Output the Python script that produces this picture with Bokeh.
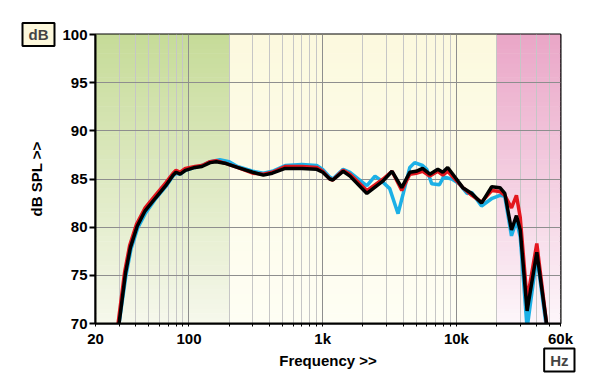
import numpy as np
from bokeh.plotting import figure
from bokeh.models import FixedTicker, Range1d, Title, ColumnDataSource
from bokeh.embed import file_html
from bokeh.resources import INLINE

# ---------------- data ----------------
black_f = [30, 33.5, 36.5, 41, 47, 56, 67, 76, 80, 86, 94, 111, 125, 144, 160, 190, 230, 300, 360, 420,
           524, 700, 903, 1000, 1130, 1190, 1420, 1600, 2140, 2830, 3300, 3900, 4480, 5000, 5580, 6320,
           7260, 7900, 8600, 9740, 11160, 13020, 15400, 18360, 21160, 23000, 25800, 28100, 30000, 33760,
           39900, 47200]
black_db = [70.0, 75.2, 77.9, 80.1, 81.7, 83.0, 84.3, 85.4, 85.7, 85.5, 85.9, 86.2, 86.3, 86.7, 86.8, 86.6,
            86.2, 85.7, 85.4, 85.6, 86.1, 86.1, 86.0, 85.7, 85.0, 84.9, 85.8, 85.3, 83.5, 84.8, 85.8, 84.1,
            85.7, 85.8, 86.1, 85.5, 86.0, 85.7, 86.2, 85.2, 84.1, 83.5, 82.5, 84.2, 84.1, 83.5, 79.7, 81.2,
            79.7, 71.3, 77.4, 70.0]

red_f = [29.5, 33, 36, 40.5, 47, 56, 67, 76, 80, 86, 94, 111, 125, 144, 160, 190, 230, 300, 360, 420,
         524, 700, 903, 1000, 1130, 1190, 1420, 1600, 2140, 2830, 3300, 3900, 4480, 5000, 5580, 6320,
         7260, 7900, 8600, 9740, 11160, 13020, 15400, 18360, 21160, 23000, 25800, 28100, 30000, 33760,
         39900, 47200]
red_db = [70.0, 75.3, 78.1, 80.3, 82.0, 83.3, 84.6, 85.6, 85.9, 85.7, 86.1, 86.3, 86.4, 86.8, 86.9, 86.6,
          86.2, 85.6, 85.5, 85.7, 86.3, 86.3, 86.2, 85.8, 85.0, 84.9, 85.9, 85.5, 83.8, 85.0, 85.8, 83.8,
          85.5, 85.6, 85.8, 85.3, 85.8, 85.4, 85.8, 85.0, 84.1, 83.3, 82.6, 83.8, 83.7, 83.3, 82.0, 83.3,
          81.0, 72.4, 78.3, 70.0]

blue_f = [30, 33.8, 36.8, 41.3, 47.5, 56, 67, 76, 80, 86, 94, 111, 125, 144, 170, 200, 230, 300, 360, 420,
          524, 700, 903, 1000, 1130, 1190, 1420, 1600, 2140, 2460, 2760, 3170, 3660, 4000, 4480, 4870,
          5580, 6000, 6540, 7460, 8000, 9240, 10500, 12000, 13020, 15400, 18500, 21160, 23000, 25800,
          28100, 30000, 33760, 39900, 47200]
blue_db = [70.0, 75.0, 77.7, 79.9, 81.5, 82.9, 84.2, 85.3, 85.6, 85.5, 85.9, 86.2, 86.4, 86.8, 87.0, 86.8,
           86.3, 85.8, 85.6, 85.8, 86.4, 86.5, 86.4, 86.0, 85.2, 85.0, 86.0, 85.7, 84.3, 85.3, 84.8, 84.0,
           81.4, 83.5, 86.2, 86.7, 86.4, 86.0, 84.5, 84.4, 85.2, 85.0, 84.5, 83.5, 83.6, 82.2, 83.0, 83.3,
           83.2, 79.1, 80.7, 79.0, 69.5, 77.0, 69.5]

# background bands (Hz) and their top/bottom colours
band_lo = [20, 200, 20000]
band_hi = [200, 20000, 60000]
band_top = [(198, 219, 152), (252, 249, 222), (234, 166, 199)]
band_bot = [(246, 248, 236), (254, 254, 244), (253, 246, 250)]

major_ticks = [20, 100, 1000, 10000, 60000]
major_labels = ["20", "100", "1k", "10k", "60k"]
minor_ticks = [30, 40, 50, 60, 70, 80, 90, 200, 300, 400, 500, 600, 700, 800, 900,
               2000, 3000, 4000, 5000, 6000, 7000, 8000, 9000, 20000, 30000, 40000, 50000]
y_ticks = [70, 75, 80, 85, 90, 95, 100]

FONT = "Liberation Sans"

p = figure(width=592, height=381, x_axis_type="log",
           x_range=Range1d(20, 60000), y_range=Range1d(70, 100),
           output_backend="svg", toolbar_location=None,
           min_border_left=95, min_border_right=32, min_border_top=34, min_border_bottom=58)

# gradient backgrounds made of thin horizontal strips
n = 60
edges = np.linspace(70, 100, n + 1)
L, R, B, T, C = [], [], [], [], []
for lo, hi, ct, cb in zip(band_lo, band_hi, band_top, band_bot):
    for i in range(n):
        t = (i + 0.5) / n
        col = tuple(int(round(cb[k] + (ct[k] - cb[k]) * t)) for k in range(3))
        L.append(lo); R.append(hi); B.append(edges[i]); T.append(edges[i + 1] + 0.05)
        C.append("#%02x%02x%02x" % col)
src = ColumnDataSource(dict(left=L, right=R, bottom=B, top=T, color=C))
p.quad(left="left", right="right", bottom="bottom", top="top", fill_color="color",
       line_color=None, source=src, level="underlay")

# grid
p.xaxis.ticker = FixedTicker(ticks=major_ticks, minor_ticks=minor_ticks)
p.xaxis.major_label_overrides = {t: l for t, l in zip(major_ticks, major_labels)}
p.xgrid.grid_line_color = "#8e8e8e"
p.xgrid.grid_line_width = 1
p.xgrid.minor_grid_line_color = "#c6c6c6"
p.xgrid.minor_grid_line_width = 1
p.xgrid.level = "underlay"
p.yaxis.ticker = FixedTicker(ticks=y_ticks)
p.ygrid.grid_line_color = "#8e8e8e"
p.ygrid.level = "underlay"

# curves
p.line(blue_f, blue_db, line_color="#1cb0e6", line_width=3.5)
p.line(red_f, red_db, line_color="#e3161e", line_width=3.5)
p.line(black_f, black_db, line_color="#000000", line_width=3.5)

# axes styling
for ax in (p.xaxis, p.yaxis):
    ax.axis_line_color = "black"
    ax.axis_line_width = 2
    ax.major_tick_line_color = "black"
    ax.major_label_text_font = FONT
    ax.major_label_text_font_style = "bold"
    ax.major_label_text_font_size = "15px"
    ax.major_label_text_color = "black"
    ax.axis_label_text_font = FONT
    ax.axis_label_text_font_style = "bold"
    ax.axis_label_text_font_size = "15px"
    ax.axis_label_text_color = "black"

p.xaxis.axis_label = "Frequency >>"
p.xaxis.major_tick_in = 0
p.xaxis.major_tick_out = 3
p.xaxis.minor_tick_in = 0
p.xaxis.minor_tick_out = 3
p.xaxis.minor_tick_line_color = "black"
p.xaxis.major_label_standoff = 3
p.xaxis.axis_label_standoff = 2

p.yaxis.axis_label = "dB SPL >>"
p.yaxis.major_tick_in = 0
p.yaxis.major_tick_out = 6
p.yaxis.major_tick_line_width = 2
p.yaxis.minor_tick_line_color = None
p.yaxis.major_label_standoff = 2
p.yaxis.axis_label_standoff = 14

p.outline_line_color = "black"
p.outline_line_width = 2
p.background_fill_color = "white"
p.border_fill_color = "white"

# unit boxes as titles (side-panel annotations are not clipped to the frame)
db_box = Title(text="dB", align="left", vertical_align="bottom", offset=-73, standoff=-23,
               text_font=FONT, text_font_style="bold", text_font_size="15px",
               background_fill_color="#fdf8dc", border_line_color="black",
               border_line_width=2, padding=(6, 3))
p.add_layout(db_box, "above")
hz_box = Title(text="Hz", align="right", vertical_align="top", offset=-14, standoff=-46,
               text_font=FONT, text_font_style="bold", text_font_size="15px",
               background_fill_color="white", border_line_color="black",
               border_line_width=2, padding=(6, 3))
p.add_layout(hz_box, "below")

open("out.html", "w").write(file_html(p, INLINE))
